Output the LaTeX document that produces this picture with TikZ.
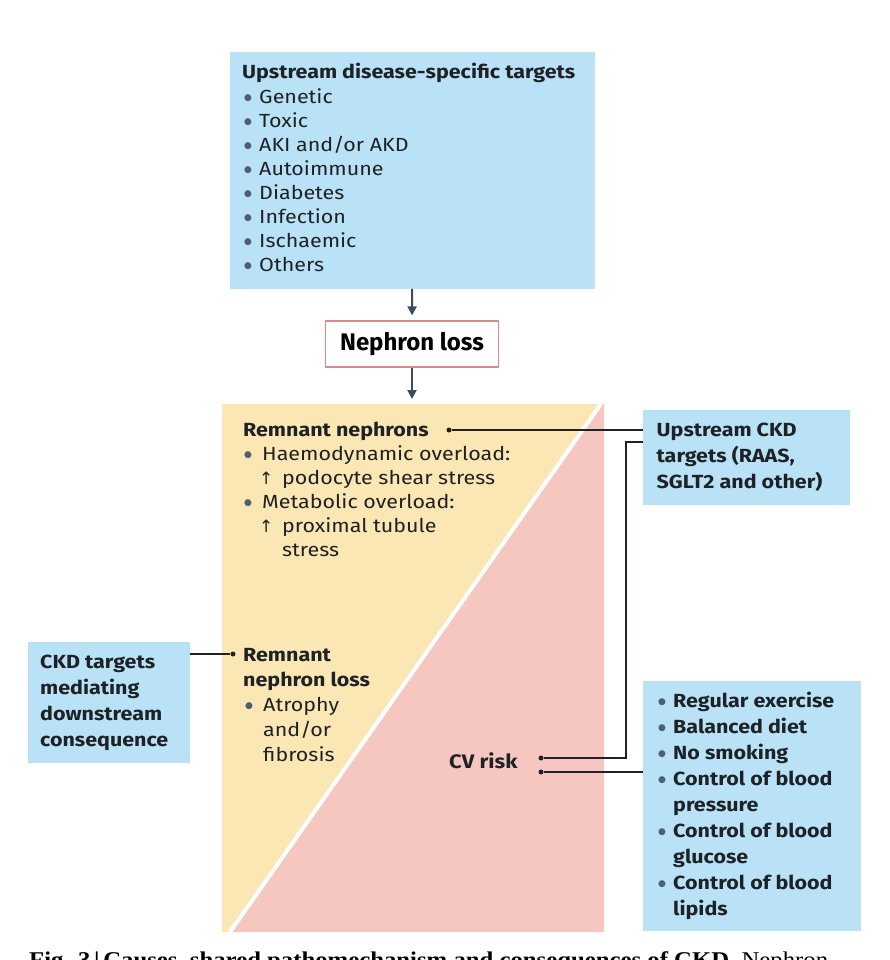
\documentclass[tikz,border=0pt]{standalone}
\usepackage{fontspec}
\setmainfont{Fira Sans}[FakeStretch=1.13]
\newfontfamily\nlfont{Fira Sans}
\newfontfamily\capfont{Liberation Serif}[FakeStretch=1.1]
\newfontfamily\symfont{DejaVu Sans}
\usetikzlibrary{arrows.meta}
\definecolor{boxblue}{HTML}{B9E2F6}
\definecolor{yel}{HTML}{FBE7B4}
\definecolor{pnk}{HTML}{F6C6C1}
\definecolor{arrc}{HTML}{3C4B5E}
\definecolor{bulc}{HTML}{4E5F74}
\definecolor{txt}{HTML}{1E2226}
\definecolor{nlred}{HTML}{D9898A}
\newcommand\bul[2]{\hspace*{#1}\makebox[#2][l]{\raisebox{3.2pt}{\color{bulc}\symfont\fontsize{9}{9}\selectfont ●}}}
\newcommand\upar{{\symfont\fontsize{17}{17}\selectfont ↑}}
\begin{document}
\begin{tikzpicture}[x=1pt,y=-1pt,
  bluebox/.style={fill=boxblue, draw=none, inner sep=0, anchor=north west},
  txtblk/.style={anchor=north west, inner sep=0, align=left, text=txt},
  arr/.style={draw=arrc, line width=2pt, -{Triangle[length=9pt,width=9pt]}, shorten >=5pt},
  conn/.style={draw=txt, line width=1.3pt},
  dotc/.style={circle, fill=txt, inner sep=0, minimum size=5pt}]
\useasboundingbox (0,0) rectangle (890,960);
\clip (0,0) rectangle (890,960);

% top box
\node[bluebox, minimum width=365pt, minimum height=237pt] (up) at (229.5,51.5) {};
\node[txtblk, font=\fontsize{19}{24}\selectfont] (uptxt) at (242,61.2) {\strut\textbf{Upstream disease-specific targets}\\[1pt]
\bul{2pt}{15pt}Genetic\\
\bul{2pt}{15pt}Toxic\\
\bul{2pt}{15pt}AKI and/or AKD\\
\bul{2pt}{15pt}Autoimmune\\
\bul{2pt}{15pt}Diabetes\\
\bul{2pt}{15pt}Infection\\
\bul{2pt}{15pt}Ischaemic\\
\bul{2pt}{15pt}Others};

% nephron loss
\node[draw=nlred, line width=1.2pt, fill=white, minimum width=173pt, minimum height=46pt, inner sep=0, text=black, font=\nlfont\fontsize{24}{28}\selectfont\bfseries] (nl) at (412,344) {Nephron loss};

% region
\coordinate (regtop) at (412,404);
\fill[yel] (222,404) -- (601,404) -- (230,932) -- (222,932) -- cycle;
\fill[pnk] (601,404) -- (604,404) -- (604,932) -- (230,932) -- cycle;
\begin{scope}
\clip (222,404) rectangle (604,932);
\draw[white, line width=4pt] (601,404) -- (230,932);
\end{scope}

\draw[arr] (up.south) -- (nl.north);
\draw[arr] (nl.south) -- (regtop);

% remnant nephrons
\node[txtblk, font=\fontsize{19}{24}\selectfont] (rn) at (243,419.7) {\strut\textbf{Remnant nephrons}\\
\bul{1pt}{18pt}Haemodynamic overload:\\
\hspace*{16pt}\makebox[23pt][l]{\upar}podocyte shear stress\\
\bul{1pt}{18pt}Metabolic overload:\\
\hspace*{16pt}\makebox[23pt][l]{\upar}proximal tubule\\
\hspace*{39pt}stress};
\node[dotc] (d1) at (449,430) {};

% upstream CKD box
\node[bluebox, minimum width=207pt, minimum height=95pt] (uck) at (643,410) {};
\node[txtblk, font=\fontsize{19}{26}\selectfont\bfseries] (ucktxt) at (656.5,418.5) {\strut Upstream CKD\\ targets (RAAS,\\ SGLT2 and other)};

% left box
\node[bluebox, minimum width=162pt, minimum height=121pt] (ckd) at (28,642) {};
\node[txtblk, font=\fontsize{19}{26}\selectfont\bfseries] (ckdtxt) at (40,649.8) {\strut CKD targets\\ mediating\\ downstream\\ consequence};

% remnant nephron loss
\node[txtblk, font=\fontsize{19}{25}\selectfont] (rl) at (243,644.2) {\strut\textbf{Remnant}\\
\textbf{nephron loss}\\
\bul{2pt}{18pt}Atrophy\\
\hspace*{20pt}and/or\\
\hspace*{20pt}fibrosis};
\node[dotc] (d3) at (233,654) {};

% CV risk
\node[anchor=base west, inner sep=0, text=txt, font=\fontsize{19.5}{24}\selectfont\bfseries] (cv) at (449,768) {CV risk};
\node[dotc] (cv1) at (541,758) {};
\node[dotc] (cv2) at (541,772) {};

% lifestyle box
\node[bluebox, minimum width=218pt, minimum height=250pt] (lf) at (643,681) {};
\node[txtblk, font=\fontsize{19}{26}\selectfont\bfseries] (lftxt) at (658,689.5) {\strut\bul{0pt}{15pt}Regular exercise\\
\bul{0pt}{15pt}Balanced diet\\
\bul{0pt}{15pt}No smoking\\
\bul{0pt}{15pt}Control of blood\\
\hspace*{15pt}pressure\\
\bul{0pt}{15pt}Control of blood\\
\hspace*{15pt}glucose\\
\bul{0pt}{15pt}Control of blood\\
\hspace*{15pt}lipids};

% connectors
\coordinate (k1) at (643,442);
\coordinate (vx) at (626,600);
\draw[conn] (d1) -- (d1 -| uck.west);
\draw[conn] (k1) -- (k1 -| vx) |- (cv1);
\draw[conn] (cv2) -- (cv2 -| lf.west);
\draw[conn] (ckd.east |- d3) -- (d3);

% caption (cut off at page edge, as in the reference)
\node[anchor=base west, inner sep=0, text=black, font=\capfont\fontsize{22.5}{24}\selectfont] (cap) at (29,967) {\textbf{Fig. 3\,|\,Causes, shared pathomechanism and consequences of CKD.} Nephron};
\end{tikzpicture}
\end{document}
